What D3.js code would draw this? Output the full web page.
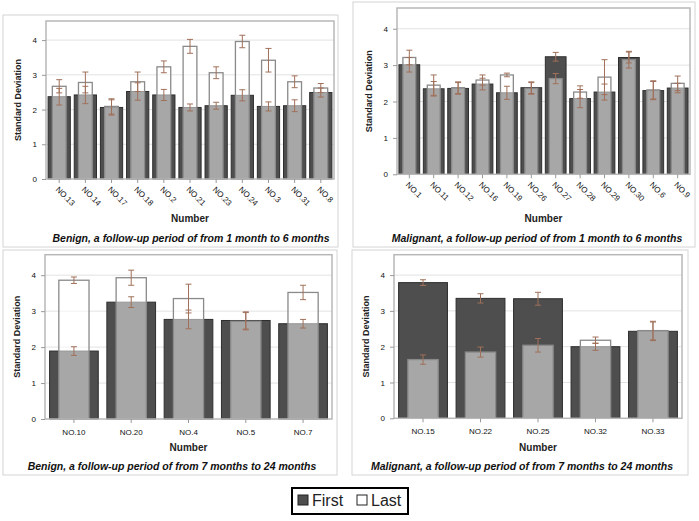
<!DOCTYPE html>
<html>
<head>
<meta charset="utf-8">
<script src="https://cdn.jsdelivr.net/npm/d3@7"></script>
<style>
  body { margin: 0; background: #fff; }
  text { font-family: "Liberation Sans", Arial, sans-serif; fill: #222; }
</style>
</head>
<body>
<div id="chart"></div>
<script>
// ======= data ========

var benignShortCats  = ["NO.13","NO.14","NO.17","NO.18","NO.2","NO.21","NO.23","NO.24","NO.3","NO.31","NO.8"];
var benignShortFirst = [2.37, 2.42, 2.06, 2.52, 2.42, 2.06, 2.11, 2.41, 2.09, 2.11, 2.49];
var benignShortLast  = [2.67, 2.78, 2.09, 2.80, 3.23, 3.82, 3.06, 3.96, 3.42, 2.80, 2.62];
var benignShortFirstErr = [0.24, 0.25, 0.22, 0.25, 0.16, 0.10, 0.10, 0.16, 0.13, 0.17, 0.13];
var benignShortLastErr  = [0.19, 0.30, 0.22, 0.28, 0.17, 0.20, 0.17, 0.18, 0.34, 0.17, 0.13];

var malignShortCats  = ["NO.1","NO.11","NO.12","NO.16","NO.19","NO.26","NO.27","NO.28","NO.29","NO.30","NO.6","NO.9"];
var malignShortFirst = [3.01, 2.35, 2.36, 2.48, 2.24, 2.38, 3.23, 2.08, 2.26, 3.21, 2.30, 2.37];
var malignShortLast  = [3.21, 2.45, 2.38, 2.59, 2.73, 2.36, 2.63, 2.26, 2.67, 3.15, 2.32, 2.50];
var malignShortFirstErr = [0.20, 0.20, 0.16, 0.16, 0.18, 0.16, 0.12, 0.25, 0.22, 0.15, 0.25, 0.13];
var malignShortLastErr  = [0.20, 0.28, 0.16, 0.14, 0.05, 0.16, 0.14, 0.17, 0.48, 0.23, 0.25, 0.20];

var benignLongCats  = ["NO.10","NO.20","NO.4","NO.5","NO.7"];
var benignLongFirst = [1.89, 3.25, 2.77, 2.74, 2.65];
var benignLongLast  = [3.86, 3.93, 3.35, 2.72, 3.52];
var benignLongFirstErr = [0.12, 0.15, 0.26, 0.24, 0.12];
var benignLongLastErr  = [0.09, 0.21, 0.40, 0.24, 0.20];

var malignLongCats  = ["NO.15","NO.22","NO.25","NO.32","NO.33"];
var malignLongFirst = [3.79, 3.35, 3.34, 2.00, 2.43];
var malignLongLast  = [1.64, 1.85, 2.04, 2.18, 2.45];
var malignLongFirstErr = [0.08, 0.13, 0.18, 0.10, 0.26];
var malignLongLastErr  = [0.13, 0.14, 0.19, 0.09, 0.26];

var yTicks = [0, 1, 2, 3, 4];
var seriesNames = ["First", "Last"];

var width = 699;
var height = 521;

var svg = d3.select("#chart")
  .append("svg")
    .attr("width", width)
    .attr("height", height);

// ======= panels ========

var panels = [
  { cats: benignShortCats, first: benignShortFirst, last: benignShortLast,
    firstErr: benignShortFirstErr, lastErr: benignShortLastErr,
    box: [3, 15, 335, 232], plot: [46, 21, 334, 179], yMax: 4.55, rotate: true,
    numberY: 222, captionX: 191, captionY: 242,
    caption: "Benign, a follow-up period of from 1 month to 6 months" },
  { cats: malignShortCats, first: malignShortFirst, last: malignShortLast,
    firstErr: malignShortFirstErr, lastErr: malignShortLastErr,
    box: [353, 2, 342, 245], plot: [397, 8, 690, 174.3], yMax: 4.57, rotate: true,
    numberY: 222, captionX: 537, captionY: 242,
    caption: "Malignant, a follow-up period of from 1 month to 6 months" },
  { cats: benignLongCats, first: benignLongFirst, last: benignLongLast,
    firstErr: benignLongFirstErr, lastErr: benignLongLastErr,
    box: [3, 250, 334, 225], plot: [45, 254.7, 332, 419], yMax: 4.57, rotate: false,
    numberY: 451, captionX: 172, captionY: 470,
    caption: "Benign, a follow-up period of from 7 months to 24 months" },
  { cats: malignLongCats, first: malignLongFirst, last: malignLongLast,
    firstErr: malignLongFirstErr, lastErr: malignLongLastErr,
    box: [352, 250, 336, 225], plot: [394, 254.7, 682, 418.3], yMax: 4.57, rotate: false,
    numberY: 451, captionX: 522, captionY: 470,
    caption: "Malignant, a follow-up period of from 7 months to 24 months" }
];

panels.forEach(drawPanel);

function drawPanel(p) {
  var g = svg.append("g").attr("class", "panel");

  g.append("rect")
    .attr("x", p.box[0]).attr("y", p.box[1])
    .attr("width", p.box[2]).attr("height", p.box[3])
    .style("fill", "none").style("stroke", "#d4d4d4");

  var left = p.plot[0], top = p.plot[1], right = p.plot[2], bottom = p.plot[3];

  var x = d3.scaleBand()
      .domain(p.cats)
      .range([left, right])
      .paddingInner(0.15)
      .paddingOuter(0.08);

  var y = d3.scaleLinear()
      .domain([0, p.yMax])
      .range([bottom, top]);

  // grid
  g.selectAll(".grid")
      .data(yTicks.filter(function(d){ return d > 0; }))
    .enter().append("line")
      .attr("x1", left).attr("x2", right)
      .attr("y1", function(d){ return y(d); })
      .attr("y2", function(d){ return y(d); })
      .style("stroke", "#e2e2e2");

  var rows = p.cats.map(function(c, i) {
    return { cat: c, first: p.first[i], last: p.last[i], fe: p.firstErr[i], le: p.lastErr[i] };
  });

  var bw = x.bandwidth();
  var innerW = bw * 0.62;

  // first bars
  g.selectAll(".barFirst")
      .data(rows)
    .enter().append("rect")
      .attr("x", function(d){ return x(d.cat); })
      .attr("y", function(d){ return y(d.first); })
      .attr("width", bw)
      .attr("height", function(d){ return y(0) - y(d.first); })
      .style("fill", "#4e4e4e")
      .style("stroke", "#2e2e2e");

  // last bars (semi transparent white)
  g.selectAll(".barLast")
      .data(rows)
    .enter().append("rect")
      .attr("x", function(d){ return x(d.cat) + (bw - innerW) / 2; })
      .attr("y", function(d){ return y(d.last); })
      .attr("width", innerW)
      .attr("height", function(d){ return y(0) - y(d.last); })
      .style("fill", "#fff")
      .style("fill-opacity", 0.5)
      .style("stroke", "#8a8a8a")
      .style("stroke-width", 1.3);

  // error bars
  var errs = [];
  rows.forEach(function(d) {
    errs.push({ cat: d.cat, v: d.first, e: d.fe });
    errs.push({ cat: d.cat, v: d.last, e: d.le });
  });

  var eb = g.selectAll(".err")
      .data(errs)
    .enter().append("g")
      .attr("class", "err")
      .style("stroke", "#a0705a")
      .style("stroke-width", 1);

  eb.append("line")
      .attr("x1", function(d){ return x(d.cat) + bw / 2; })
      .attr("x2", function(d){ return x(d.cat) + bw / 2; })
      .attr("y1", function(d){ return y(d.v - d.e); })
      .attr("y2", function(d){ return y(d.v + d.e); });
  [-1, 1].forEach(function(s) {
    eb.append("line")
      .attr("x1", function(d){ return x(d.cat) + bw / 2 - 3; })
      .attr("x2", function(d){ return x(d.cat) + bw / 2 + 3; })
      .attr("y1", function(d){ return y(d.v + s * d.e); })
      .attr("y2", function(d){ return y(d.v + s * d.e); });
  });

  // plot frame
  g.append("rect")
    .attr("x", left).attr("y", top)
    .attr("width", right - left).attr("height", bottom - top)
    .style("fill", "none").style("stroke", "#b8b8b8").style("stroke-width", 1.5);

  // y axis
  var yAxis = g.append("g")
      .attr("transform", "translate(" + left + ",0)")
      .call(d3.axisLeft(y).tickValues(yTicks).tickSize(4).tickPadding(5).tickFormat(d3.format("d")));
  yAxis.select(".domain").remove();
  yAxis.selectAll("line").style("stroke", "#999");
  yAxis.selectAll("text").style("font-size", "8px").style("font-family", "Liberation Sans, Arial, sans-serif").style("fill", "#111");

  // x axis
  var xAxis = g.append("g")
      .attr("transform", "translate(0," + bottom + ")")
      .call(d3.axisBottom(x).tickSize(4).tickPadding(6));
  xAxis.select(".domain").remove();
  xAxis.selectAll("line").style("stroke", "#999");
  xAxis.selectAll("text").style("font-size", "8px").style("font-family", "Liberation Sans, Arial, sans-serif").style("fill", "#111");
  if (p.rotate) {
    xAxis.selectAll("text")
      .attr("text-anchor", "start")
      .attr("dy", null)
      .attr("y", 0)
      .attr("transform", "translate(-4,11) rotate(45)");
  }

  g.append("text")
    .attr("transform", "translate(" + (left - 28) + "," + ((top + bottom) / 2) + ") rotate(-90)")
    .attr("text-anchor", "middle")
    .attr("dy", "0.35em")
    .style("font-size", "9px").style("font-weight", "bold")
    .text("Standard Deviation");

  g.append("text")
    .attr("x", (left + right) / 2)
    .attr("y", p.numberY)
    .attr("text-anchor", "middle")
    .style("font-size", "10px").style("font-weight", "bold")
    .text("Number");

  g.append("text")
    .attr("x", p.captionX)
    .attr("y", p.captionY)
    .attr("text-anchor", "middle")
    .style("font-size", "10.5px").style("font-weight", "bold").style("font-style", "italic")
    .style("fill", "#111")
    .text(p.caption);
}

// ======= legend ========

var legend = svg.append("g").attr("class", "legend");
legend.append("rect")
  .attr("x", 292).attr("y", 488).attr("width", 116).attr("height", 26)
  .style("fill", "#fff").style("stroke", "#000").style("stroke-width", 2);

var legendX = [298, 357];
var legendFill = ["#4e4e4e", "#fff"];
var items = legend.selectAll(".item")
    .data(seriesNames)
  .enter().append("g")
    .attr("transform", function(d, i){ return "translate(" + legendX[i] + ",495)"; });
items.append("rect")
  .attr("width", 10).attr("height", 10)
  .style("fill", function(d, i){ return legendFill[i]; })
  .style("stroke", "#222");
items.append("text")
  .attr("x", 14).attr("y", 11)
  .style("font-size", "16px")
  .text(function(d){ return d; });
</script>
</body>
</html>
